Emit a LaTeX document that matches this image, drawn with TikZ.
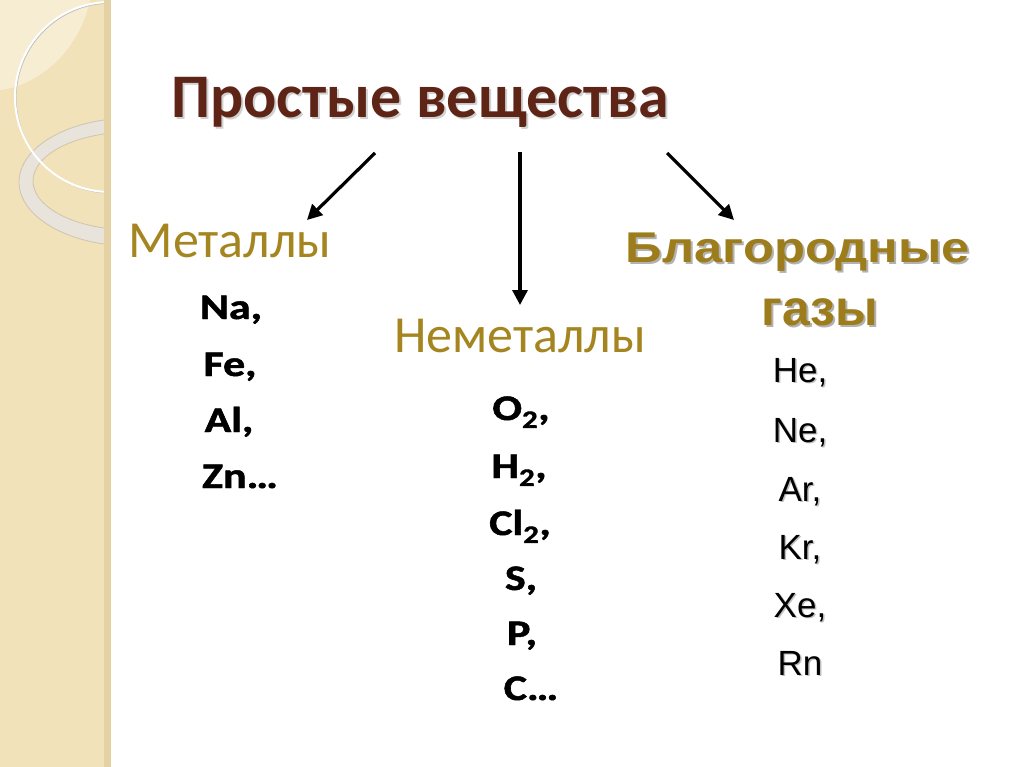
\documentclass[tikz,border=0pt]{standalone}
\usepackage{fontspec}
\setmainfont{Carlito}
\newfontfamily\arialf{Liberation Sans}
\newfontfamily\heavyf[FakeBold=1.3]{Carlito Bold}
\usetikzlibrary{arrows.meta}
\definecolor{stripbg}{HTML}{F2E2BA}
\definecolor{striplight}{HTML}{F7EDD3}
\definecolor{stripedge}{HTML}{E4D2A4}
\definecolor{ringc}{HTML}{E8E4DB}
\definecolor{ringedge}{HTML}{CFC4AE}
\definecolor{titlec}{HTML}{5E2517}
\definecolor{goldc}{HTML}{A5851F}
\definecolor{noblec}{HTML}{9C7C1B}
\newcommand{\widetext}[1]{\scalebox{1.22}[1]{#1}}
\tikzset{
  titletext/.style={font=\bfseries\fontsize{62}{70}\selectfont, text=titlec, anchor=base, inner sep=0pt},
  cattext/.style={font=\fontsize{52}{60}\selectfont, text=goldc, anchor=base, inner sep=0pt},
  eltext/.style={font=\heavyf\fontsize{36}{40}\selectfont, text=black, anchor=base, inner sep=0pt},
  noblehead/.style={font=\arialf\bfseries\fontsize{43}{50}\selectfont, text=noblec, anchor=base, inner sep=0pt},
  noblehead2/.style={font=\arialf\bfseries\fontsize{50}{56}\selectfont, text=noblec, anchor=base, inner sep=0pt},
  nobleel/.style={font=\arialf\fontsize{35}{42}\selectfont, text=black, anchor=base, inner sep=0pt},
  shadowtext/.style={text=black, opacity=0.3},
  arr/.style={line width=3.2pt, -{Triangle[length=15pt,width=15pt]}}
}
\begin{document}
\begin{tikzpicture}[x=1pt,y=-1pt]
\useasboundingbox (0,0) rectangle (1024,767);
\fill[white] (0,0) rectangle (1024,767);
% decorative strip
\fill[stripbg] (0,0) rectangle (111,767);
\fill[striplight] (0,0) -- (0,90) .. controls (35,86) and (78,55) .. (90,0) -- cycle;
\begin{scope}
  \clip (0,0) rectangle (108,767);
  \fill[ringc, even odd rule] (132,182) ellipse [x radius=113, y radius=64]
                             (132,181) ellipse [x radius=99, y radius=49];
  \draw[ringedge, line width=0.8pt] (132,182) ellipse [x radius=113, y radius=64];
  \draw[ringedge, line width=0.8pt] (132,181) ellipse [x radius=99, y radius=49];
  \draw[black!25, line width=1.2pt] (111,98) circle [radius=95];
  \draw[white, line width=2pt] (110,97) circle [radius=95];
\end{scope}
\fill[stripedge] (104,0) rectangle (111,767);

% title
\node[titletext, shadowtext, opacity=0.18] at (422,120) {Простые вещества};
\node[titletext] (title) at (420,118) {Простые вещества};

% categories
\node[cattext] (met) at (230,258) {Металлы};
\node[cattext] (nonmet) at (520,352) {Неметаллы};
\node[noblehead, shadowtext] at (800,264) {\scalebox{1.18}[1]{Благородные}};
\node[noblehead] (noble) at (798,262) {\scalebox{1.18}[1]{Благородные}};
\node[noblehead2, shadowtext] at (822,327) {газы};
\node[noblehead2] (noble2) at (820,325) {газы};

% arrows
\coordinate (s1) at (375,153);
\coordinate (e1) at (307,220);
\coordinate (s2) at (520,152);
\coordinate (e2) at (520,305);
\coordinate (s3) at (667,153);
\coordinate (e3) at (734,220);
\draw[arr] (s1) -- (e1);
\draw[arr] (s2) -- (e2);
\draw[arr] (s3) -- (e3);

% metals
\node[eltext] (na) at (231,319) {\widetext{Na,}};
\node[eltext] (fe) at (230,376) {\widetext{Fe,}};
\node[eltext] (al) at (229,432) {\widetext{Al,}};
\node[eltext] (zn) at (240,488) {\widetext{Zn…}};

% nonmetals
\node[eltext] (o2) at (521,420) {\widetext{O\textsubscript{2},}};
\node[eltext] (h2) at (519,478) {\widetext{H\textsubscript{2},}};
\node[eltext] (cl2) at (520,535) {\widetext{Cl\textsubscript{2},}};
\node[eltext] (s) at (521,590) {\widetext{S,}};
\node[eltext] (p) at (522,645) {\widetext{P,}};
\node[eltext] (c) at (531,700) {\widetext{C…}};

% noble gases
\foreach \n/\t/\yy in {he/{He,}/382, ne/{Ne,}/442, ar/{Ar,}/501, kr/{Kr,}/559, xe/{Xe,}/617, rn/{Rn}/675}{
  \node[nobleel, shadowtext, opacity=0.25] at (801.5,\yy+1.5) {\t};
  \node[nobleel] (\n) at (800,\yy) {\t};
}
\end{tikzpicture}
\end{document}
